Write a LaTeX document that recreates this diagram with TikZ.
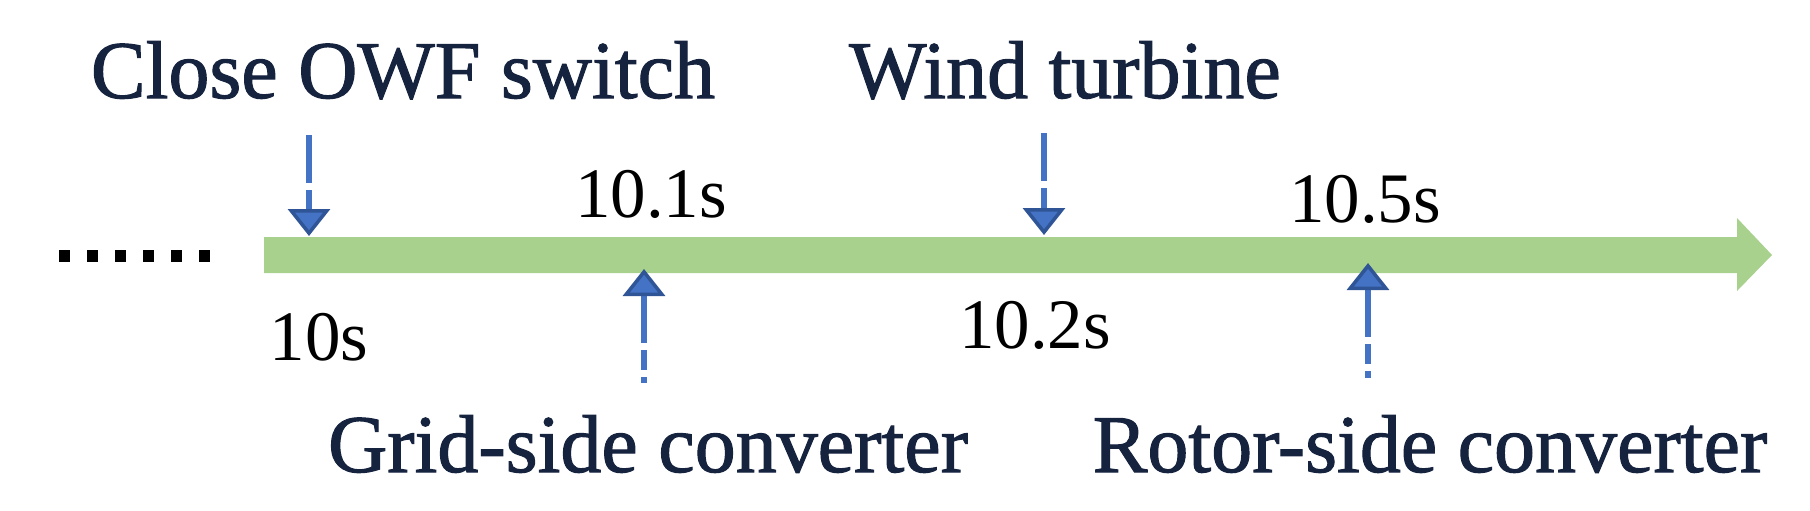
\documentclass[tikz,border=0pt]{standalone}
\usepackage{fontspec}
\setmainfont{Liberation Serif}
\newfontfamily\eventfont[FakeBold=1.3]{Liberation Serif}
\usetikzlibrary{arrows.meta}
\definecolor{bargreen}{HTML}{A9D18E}
\definecolor{cueblue}{HTML}{4472C4}
\definecolor{cueedge}{HTML}{2F5597}
\definecolor{eventnavy}{HTML}{15233F}
\tikzset{
  cue/.style={color=cueblue, line width=5.5pt, dash pattern=on 48pt off 7pt on 20pt off 7pt},
  cuehead/.tip={Triangle[length=27pt,width=42pt,line width=3.5pt,color=cueedge,fill=cueblue]},
  cue down/.style={cue, -cuehead},
  cue up/.style={cue, cuehead-}
}
\def\eventnode{\node[anchor=base,inner sep=0pt,text=eventnavy,font=\eventfont\fontsize{82}{90}\selectfont]}
\def\timenode{\node[anchor=base,inner sep=0pt,font=\fontsize{71}{80}\selectfont]}

\begin{document}
\begin{tikzpicture}[x=1pt,y=-1pt]
\useasboundingbox (0,0) rectangle (1810,511);
% time axis
\fill[bargreen] (264,237) -- (1737,237) -- (1737,218) -- (1772,255)
  -- (1737,291) -- (1737,273) -- (264,273) -- cycle;
\coordinate (dotsL) at (59,256);
\coordinate (dotsR) at (210,256);
\draw[line width=12pt, dash pattern=on 11pt off 17pt] (dotsL) -- (dotsR);
% events
\eventnode (owf) at (403,98) {Close OWF switch};
\eventnode (wt) at (1065,98) {Wind turbine};
\eventnode (gsc) at (648,472) {Grid-side converter};
\eventnode (rsc) at (1430,472) {Rotor-side converter};
% times
\timenode (t0) at (319,360) {10s};
\timenode (t1) at (651,217) {10.1s};
\timenode (t2) at (1035,348) {10.2s};
\timenode (t5) at (1365,222) {10.5s};
% cues
\coordinate (owfin) at (309,135);
\coordinate (owfat) at (309,236);
\coordinate (wtin) at (1044,133);
\coordinate (wtat) at (1044,235);
\coordinate (gscat) at (644,269);
\coordinate (gscin) at (644,383);
\coordinate (rscat) at (1368,263);
\coordinate (rscin) at (1368,378);
\draw[cue down] (owfin) -- (owfat);
\draw[cue down] (wtin) -- (wtat);
\draw[cue up] (gscat) -- (gscin);
\draw[cue up] (rscat) -- (rscin);
\end{tikzpicture}
\end{document}
